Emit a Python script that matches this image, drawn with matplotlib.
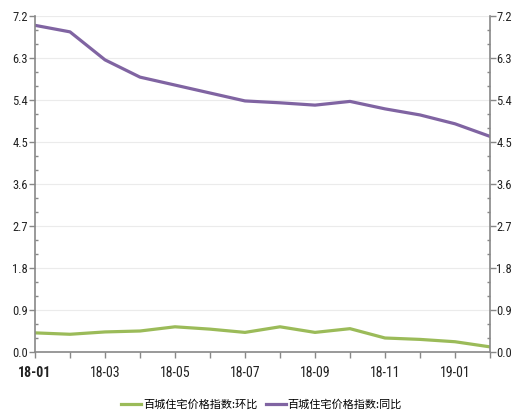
import matplotlib
matplotlib.use("Agg")
import matplotlib.pyplot as plt
from matplotlib.ticker import MultipleLocator
from matplotlib import font_manager

plt.rcParams['font.family'] = ['Noto Sans CJK SC', 'DejaVu Sans']
installed = {f.name for f in font_manager.fontManager.ttflist}
if 'Liberation Sans Narrow' in installed:
    num_family = ['Liberation Sans Narrow']
elif 'Roboto Condensed' in installed:
    num_family = ['Roboto Condensed']
else:
    num_family = ['Liberation Sans']

months = ["18-01", "18-02", "18-03", "18-04", "18-05", "18-06", "18-07",
          "18-08", "18-09", "18-10", "18-11", "18-12", "19-01", "19-02"]
mom = [0.41, 0.38, 0.43, 0.45, 0.54, 0.49, 0.42, 0.54, 0.42, 0.50, 0.30, 0.27, 0.22, 0.11]
yoy = [7.00, 6.86, 6.26, 5.89, 5.72, 5.55, 5.38, 5.34, 5.29, 5.37, 5.21, 5.08, 4.89, 4.62]
names = ["百城住宅价格指数:环比", "百城住宅价格指数:同比"]
colors = ["#9BBB59", "#8064A2"]
yticks = [0.0, 0.9, 1.8, 2.7, 3.6, 4.5, 5.4, 6.3, 7.2]

fig = plt.figure(figsize=(5.13, 4.18), dpi=100)
ax = fig.add_axes([35/513, 1-352/418, (490-35)/513, (352-16)/418])
x = list(range(len(months)))
l1, = ax.plot(x, mom, color=colors[0], lw=2.3, label=names[0], solid_joinstyle='round')
l2, = ax.plot(x, yoy, color=colors[1], lw=2.3, label=names[1], solid_joinstyle='round')

ax.set_xlim(0, len(months) - 1)
ax.set_ylim(0, 7.2)
ax.set_yticks(yticks)
ax.set_yticklabels([f"{v:.1f}" for v in yticks], family=num_family, fontsize=9)
ax.yaxis.set_minor_locator(MultipleLocator(0.3))
ax.grid(axis='y', color='#ebebeb', lw=0.8)
ax.set_axisbelow(True)

ax.set_xticks(x)
ax.set_xticklabels([m if i % 2 == 0 else "" for i, m in enumerate(months)],
                   family=num_family, fontsize=10)
ax.get_xticklabels()[0].set_fontweight('bold')

spine_c = '#888888'
for s in ['left', 'right', 'bottom']:
    ax.spines[s].set_color(spine_c)
    ax.spines[s].set_linewidth(1.2)
ax.spines['top'].set_visible(False)
ax.tick_params(axis='both', which='major', colors=spine_c, labelcolor='#222222',
               length=4, width=1)
ax.tick_params(axis='y', which='minor', colors=spine_c, length=2, width=1, direction='in')
ax.tick_params(axis='x', pad=6)
ax.tick_params(axis='y', pad=1)

ax2 = ax.twinx()
ax2.set_ylim(0, 7.2)
ax2.set_yticks(yticks)
ax2.set_yticklabels([f"{v:.1f}" for v in yticks], family=num_family, fontsize=9)
ax2.yaxis.set_minor_locator(MultipleLocator(0.3))
for s in ['left', 'right', 'bottom', 'top']:
    ax2.spines[s].set_visible(False)
ax2.tick_params(axis='y', which='major', colors=spine_c, labelcolor='#222222',
                length=4, width=1, pad=0.5)
ax2.tick_params(axis='y', which='minor', colors=spine_c, length=2, width=1, direction='in')

fig.legend(handles=[l1, l2], labels=names, loc='center', bbox_to_anchor=(0.51, 1-405/418),
           ncol=2, frameon=False, fontsize=8, handlelength=1.8, handletextpad=0.2,
           columnspacing=0.7)

fig.savefig("out.png", dpi=100)
